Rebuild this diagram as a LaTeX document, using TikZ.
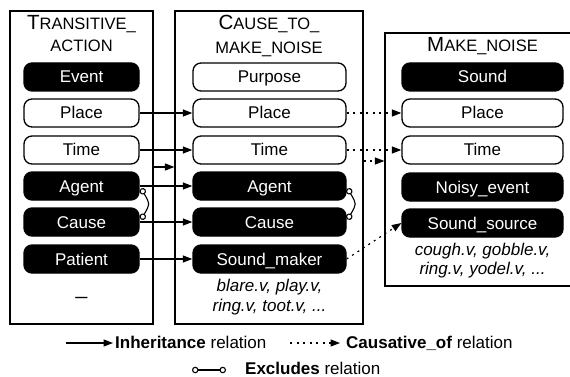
\documentclass[tikz,border=0pt]{standalone}
\usepackage{fontspec}
\setmainfont{Liberation Sans}
\usetikzlibrary{arrows.meta,calc}
\newcommand\myscap[2]{{\fontsize{20.5}{24}\selectfont #1}{\fontsize{16.5}{20}\selectfont #2}}
\begin{document}
\begin{tikzpicture}[x=1pt,y=-1pt, font=\fontsize{17}{20}\selectfont,
  frame/.style={draw, line width=1.2pt, inner sep=0pt},
  slotw/.style={draw, fill=white, rounded corners=8pt, line width=1.3pt, minimum height=28pt, inner sep=0pt, text height=15.2pt, text depth=3.2pt},
  slotb/.style={slotw, fill=black, text=white},
  ttl/.style={anchor=base, inner sep=0pt},
  lex/.style={anchor=base, inner sep=0pt, font=\fontsize{17}{20}\selectfont\itshape},
  inh/.style={line width=1.2pt, -{Triangle[length=9.5pt,width=7pt]}},
  caus/.style={inh, dash pattern=on 2pt off 4.5pt},
  excl/.style={line width=1.1pt, {Circle[open,length=6.5pt,width=6.5pt]}-{Circle[open,length=6.5pt,width=6.5pt]}},
  legtxt/.style={anchor=base west, inner sep=0pt}
]
\useasboundingbox (0,0) rectangle (570,377);
% frames
\node[frame, minimum width=143pt, minimum height=313pt] (f1) at (81.5,167.5) {};
\node[frame, minimum width=188pt, minimum height=313pt] (f2) at (269,167.5) {};
\node[frame, minimum width=190pt, minimum height=253pt] (f3) at (480,159.5) {};
% titles
\node[ttl] (t1a) at (81.5,30) {\myscap{T}{RANSITIVE\_}};
\node[ttl] (t1b) at (81.5,52) {\myscap{}{ACTION}};
\node[ttl] (t2a) at (269,30) {\myscap{C}{AUSE\_TO\_}};
\node[ttl] (t2b) at (269,54) {\myscap{}{MAKE\_NOISE}};
\node[ttl] (t3a) at (482.5,52) {\myscap{M}{AKE\_NOISE}};
% frame 1 slots
\begin{scope}[every node/.append style={minimum width=115pt}]
\node[slotb] (ev1) at (81.5,77) {Event};
\node[slotw] (pl1) at (81.5,113) {Place};
\node[slotw] (ti1) at (81.5,150) {Time};
\node[slotb] (ag1) at (81.5,186) {Agent};
\node[slotb] (ca1) at (81.5,222) {Cause};
\node[slotb] (pa1) at (81.5,259) {Patient};
\end{scope}
\node[anchor=base, inner sep=0pt, font=\fontsize{21}{24}\selectfont] (dash1) at (81.5,294.5) {\_};
% frame 2 slots
\begin{scope}[every node/.append style={minimum width=153pt}]
\node[slotw] (pu2) at (269.5,77) {Purpose};
\node[slotw] (pl2) at (269.5,113) {Place};
\node[slotw] (ti2) at (269.5,150) {Time};
\node[slotb] (ag2) at (269.5,186) {Agent};
\node[slotb] (ca2) at (269.5,222) {Cause};
\node[slotb] (sm2) at (269.5,259) {Sound\_maker};
\end{scope}
\node[lex] (lx2a) at (269.5,291) {blare.v, play.v,};
\node[lex] (lx2b) at (269.5,311.5) {ring.v, toot.v, ...};
% frame 3 slots
\begin{scope}[every node/.append style={minimum width=161pt}]
\node[slotb] (so3) at (482.5,77) {Sound};
\node[slotw] (pl3) at (482.5,113) {Place};
\node[slotw] (ti3) at (482.5,150) {Time};
\node[slotb] (ne3) at (482.5,187) {Noisy\_event};
\node[slotb] (ss3) at (482.5,223) {Sound\_source};
\end{scope}
\node[lex] (lx3a) at (482.5,255.5) {cough.v, gobble.v,};
\node[lex] (lx3b) at (482.5,274) {ring.v, yodel.v, ...};
% inheritance
\coordinate (h12) at (0,167);
\coordinate (h23) at (0,161);
\draw[inh] (f1.east |- h12) -- (f2.west |- h12);
\draw[inh] (pl1.east) -- (pl2.west);
\draw[inh] (ti1.east) -- (ti2.west);
\draw[inh] (ag1.east) -- (ag2.west);
\draw[inh] (ca1.east) -- (ca2.west);
\draw[inh] (pa1.east) -- (sm2.west);
% causative
\draw[caus] (f2.east |- h23) -- (f3.west |- h23);
\draw[caus] (pl2.east) -- (pl3.west);
\draw[caus] (ti2.east) -- (ti3.west);
\draw[caus] (sm2.east) -- (ss3.west);
% excludes
\draw[excl] ($(ag1.east)+(1.5,2.5)$) to[out=-60,in=60,looseness=1.5] ($(ca1.east)+(1.5,-2.5)$);
\draw[excl] ($(ag2.east)+(1,2.5)$) to[out=-60,in=60,looseness=1.5] ($(ca2.east)+(1,-2.5)$);
% legend
\coordinate (l1a) at (66,343);
\coordinate (l1b) at (113,343);
\coordinate (l2a) at (290,343);
\coordinate (l2b) at (340,343);
\coordinate (l3a) at (192,370);
\coordinate (l3b) at (226,370);
\draw[inh] (l1a) -- (l1b);
\node[legtxt] (lg1) at (115,348.5) {\textbf{Inheritance} relation};
\draw[caus] (l2a) -- (l2b);
\node[legtxt] (lg2) at (346,348.5) {\textbf{Causative\_of} relation};
\draw[excl] (l3a) -- (l3b);
\node[legtxt] (lg3) at (245,374) {\textbf{Excludes} relation};
\end{tikzpicture}
\end{document}
